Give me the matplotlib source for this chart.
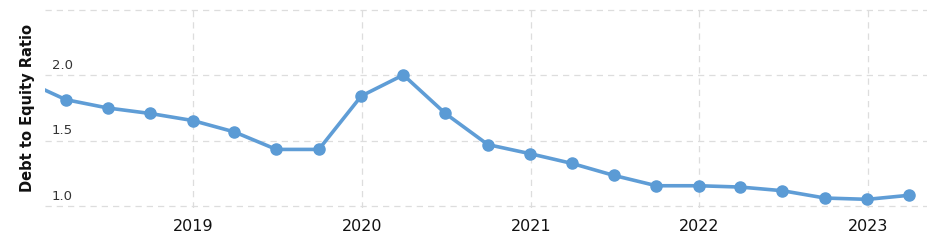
import matplotlib
matplotlib.use("Agg")
import matplotlib.pyplot as plt
import matplotlib.transforms as mtransforms
import pandas as pd

# quarterly debt to equity ratio
dates = pd.to_datetime([
    "2017-12-31", "2018-03-31", "2018-06-30", "2018-09-30", "2018-12-31",
    "2019-03-31", "2019-06-30", "2019-09-30", "2019-12-31",
    "2020-03-31", "2020-06-30", "2020-09-30", "2020-12-31",
    "2021-03-31", "2021-06-30", "2021-09-30", "2021-12-31",
    "2022-03-31", "2022-06-30", "2022-09-30", "2022-12-31",
    "2023-03-31",
])
ratio = [1.96, 1.814, 1.75, 1.708, 1.654,
         1.567, 1.433, 1.433, 1.842,
         2.003, 1.708, 1.47, 1.40,
         1.326, 1.234, 1.155, 1.155,
         1.145, 1.117, 1.061, 1.051,
         1.082]
year_ticks = pd.to_datetime(["2019-01-01", "2020-01-01", "2021-01-01",
                             "2022-01-01", "2023-01-01"])
year_labels = ["2019", "2020", "2021", "2022", "2023"]
y_ticks = [1.0, 1.5, 2.0, 2.5]

W, H = 942, 240
fig = plt.figure(figsize=(W / 100, H / 100), dpi=100)
ax = fig.add_axes([45 / W, 1 - 208 / H, (927 - 45) / W, (208 - 8) / H])

ax.plot(dates, ratio, color="#5f9dd6", lw=2.6, marker="o", ms=8,
        markerfacecolor="#5b9bd5", markeredgecolor="#5b9bd5", zorder=3)

ax.set_xlim(pd.Timestamp("2018-02-14"), pd.Timestamp("2023-05-09"))
ax.set_ylim(1.0 - 2 / 131, 2.5 + 2 / 131)

ax.set_xticks(year_ticks)
ax.set_xticklabels(year_labels)
ax.set_yticks(y_ticks)
ax.set_yticklabels([])
ax.grid(True, color="#dddddd", ls=(0, (5, 4)), lw=0.9)
ax.set_axisbelow(True)
for s in ax.spines.values():
    s.set_visible(False)
ax.tick_params(axis="both", length=0)
ax.tick_params(axis="x", labelsize=11.5, pad=8, labelcolor="#111111")

# y labels sit inside the plot, just above their grid line
trans = mtransforms.blended_transform_factory(fig.transFigure, ax.transData)
for v in y_ticks[:-1]:
    ax.text(52 / W, v + 0.025, f"{v:.1f}", transform=trans,
            fontsize=9.5, color="#333333", va="bottom", ha="left")

fig.text(28 / W, 1 - 108 / H, "Debt to Equity Ratio", rotation=90,
         fontsize=10.5, fontweight="bold", ha="center", va="center",
         color="#111111")

fig.savefig("out.png", dpi=100)
